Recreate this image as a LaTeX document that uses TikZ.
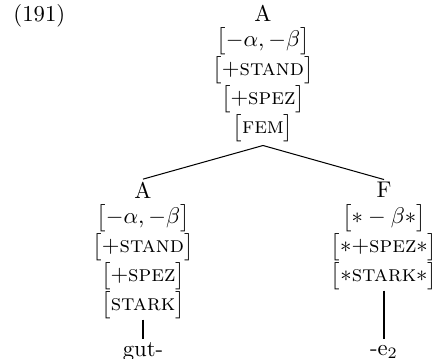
\documentclass[tikz,border=0pt]{standalone}
\begin{document}
\begin{tikzpicture}[x=0.44pt,y=-0.44pt,
  feat/.style={inner sep=0pt, anchor=center},
  edge/.style={line width=0.45pt}]
\useasboundingbox (0,0) rectangle (434,359);
% root
\node[feat] (rA) at (263,13) {A};
\node[feat] (r1) at (263,41) {$\bigl[-\alpha,-\beta\bigr]$};
\node[feat] (r2) at (263,70) {$\bigl[+\textsc{stand}\bigr]$};
\node[feat] (r3) at (263,99) {$\bigl[+\textsc{spez}\bigr]$};
\node[feat] (r4) at (263,128) {$\bigl[\textsc{fem}\bigr]$};
\node[inner sep=0pt, anchor=base west] (ex) at (13,0 |- rA.base) {(191)};
% left daughter
\node[feat] (lA) at (143,190) {A};
\node[feat] (l1) at (143,218) {$\bigl[-\alpha,-\beta\bigr]$};
\node[feat] (l2) at (143,247) {$\bigl[+\textsc{stand}\bigr]$};
\node[feat] (l3) at (143,276) {$\bigl[+\textsc{spez}\bigr]$};
\node[feat] (l4) at (143,305) {$\bigl[\textsc{stark}\bigr]$};
\node[feat] (lw) at (143,352) {gut-};
% right daughter
\node[feat] (fF) at (384,190) {F};
\node[feat] (f1) at (384,218) {$\bigl[\ast-\beta\ast\bigr]$};
\node[feat] (f2) at (384,247) {$\bigl[\ast{+}\textsc{spez}\ast\bigr]$};
\node[feat] (f3) at (384,276) {$\bigl[\ast\textsc{stark}\ast\bigr]$};
\node[feat] (fw) at (384,352) {-e$_2$};
% connectors
\coordinate (apex) at ([yshift=-1.5pt]r4.south);
\coordinate (lend) at ([yshift=1.3pt]lw.north);
\draw[edge] (apex) -- ([yshift=1pt]lA.north);
\draw[edge] (apex) -- ([yshift=1pt]fF.north);
\draw[edge] ([yshift=-0.2pt]l4.south) -- (lend);
\draw[edge] ([yshift=-0.2pt]f3.south) -- (fw.center |- lend);
\end{tikzpicture}
\end{document}
